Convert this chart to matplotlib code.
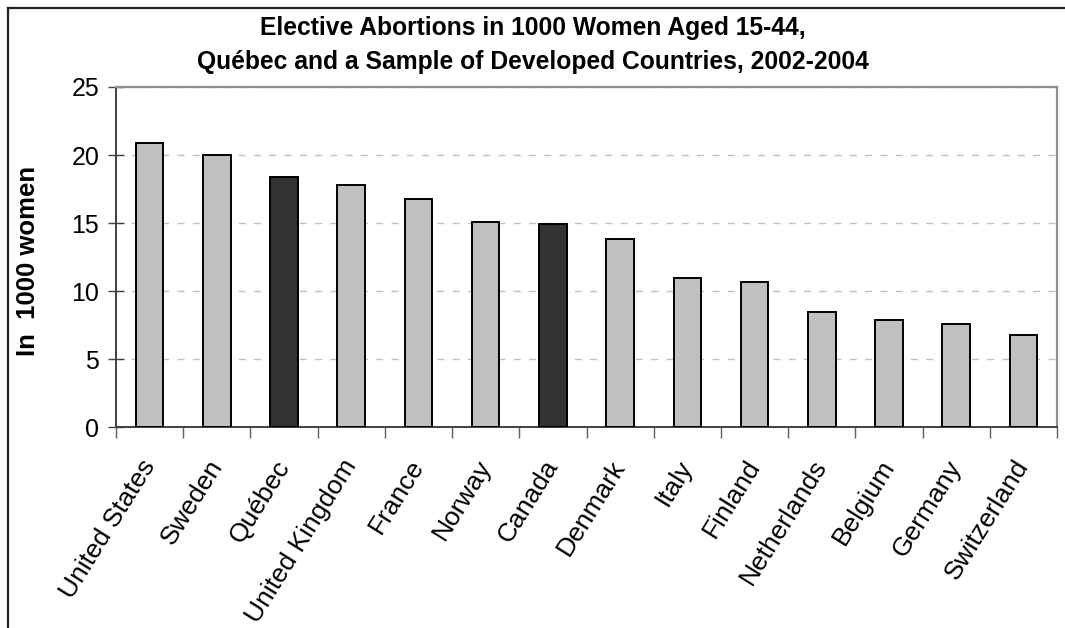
import matplotlib
matplotlib.use("Agg")
import matplotlib.pyplot as plt
from matplotlib.lines import Line2D
import numpy as np

plt.rcParams['font.family'] = ['Liberation Sans', 'DejaVu Sans']

# 2002-2004 elective abortion rates, per 1000 women aged 15-44
countries = ["United States", "Sweden", "Québec", "United Kingdom", "France",
             "Norway", "Canada", "Denmark", "Italy", "Finland", "Netherlands",
             "Belgium", "Germany", "Switzerland"]
rates = [20.9, 20.0, 18.4, 17.8, 16.8, 15.1, 14.9, 13.8, 11.0, 10.7, 8.5,
         7.9, 7.6, 6.8]
highlight = ["Québec", "Canada"]

title = ("Elective Abortions in 1000 Women Aged 15-44,\n"
         "Québec and a Sample of Developed Countries, 2002-2004")
ylabel = "In  1000 women"
yticks = [0, 5, 10, 15, 20, 25]

fig = plt.figure(figsize=(10.65, 6.28), dpi=100)
ax = fig.add_axes([116 / 1065, 1 - 427.3 / 628, 941 / 1065, 340.3 / 628])

x = np.arange(len(countries))
colors = ["#333333" if c in highlight else "#c0c0c0" for c in countries]
ax.bar(x, rates, width=0.41, color=colors, edgecolor="black", linewidth=1.4,
       zorder=3)

ax.set_xlim(-0.5, len(countries) - 0.5)
ax.set_ylim(0, 25)
ax.set_yticks(yticks)
ax.set_yticklabels([str(v) for v in yticks], fontsize=18)
ax.yaxis.grid(True, color="#c0c0c0", linestyle=(0, (5, 6)), linewidth=1.0,
              zorder=0)

# category ticks sit between bars, labels centred under them
ax.set_xticks(np.arange(len(countries) + 1) - 0.5)
ax.set_xticklabels([])
ax.set_xticks(x, minor=True)
ax.set_xticklabels(countries, minor=True, rotation=58, ha="right",
                   va="center", rotation_mode="anchor", fontsize=19)
ax.tick_params(axis="x", which="minor", length=0, pad=25)
ax.tick_params(axis="x", which="major", direction="out", length=8,
               color="#606060", width=1)
ax.tick_params(axis="y", direction="inout", length=12, color="#404040",
               width=1, pad=6)

for side in ["top", "right"]:
    ax.spines[side].set_color("#909090")
    ax.spines[side].set_linewidth(1.6)
for side in ["left", "bottom"]:
    ax.spines[side].set_color("#404040")
    ax.spines[side].set_linewidth(1.4)

fig.text(28 / 1065, 1 - 261 / 628, ylabel, rotation=90, ha="center",
         va="center", fontsize=18.5, fontweight="bold")
fig.text(0.5, 1 - 45 / 628, title, ha="center", va="center", fontsize=17.7,
         fontweight="bold", linespacing=1.5)

# outer frame: only the left and top edges are drawn
fig.add_artist(Line2D([7.5 / 1065, 7.5 / 1065], [0, 1 - 7.5 / 628],
                      color="#222222", linewidth=1.6))
fig.add_artist(Line2D([7.5 / 1065, 1], [1 - 7.5 / 628, 1 - 7.5 / 628],
                      color="#222222", linewidth=1.6))

fig.savefig("out.png", dpi=100)
